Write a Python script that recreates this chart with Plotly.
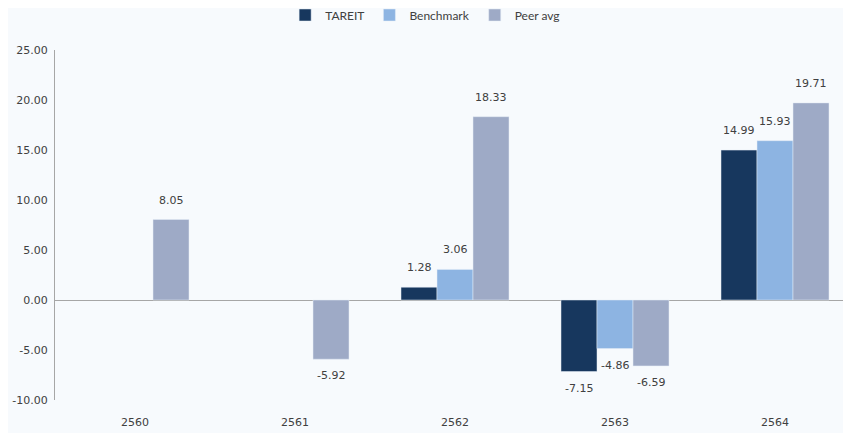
import plotly.graph_objects as go

categories = ["2560", "2561", "2562", "2563", "2564"]
tareit = [None, None, 1.28, -7.15, 14.99]
benchmark = [None, None, 3.06, -4.86, 15.93]
peer_avg = [8.05, -5.92, 18.33, -6.59, 19.71]
series_names = ["TAREIT", "Benchmark", "Peer avg"]
colors = ["#17375E", "#8DB4E2", "#9EAAC6"]
y_ticks = [-10, -5, 0, 5, 10, 15, 20, 25]

W, H = 843, 425
L, R, T, B = 47, 0, 42, 33
x_range = [-0.5, 4.475]
bargap = 0.325

fig = go.Figure()
for name, vals, col in zip(series_names, [tareit, benchmark, peer_avg], colors):
    fig.add_trace(go.Bar(x=categories, y=vals, name=name, marker_color=col))

# value labels placed at each bar's end, shifted to that bar's slot in the group
px_per_cat = (W - L - R) / (x_range[1] - x_range[0])
slot = px_per_cat * (1 - bargap) / len(series_names)
for i, vals in enumerate([tareit, benchmark, peer_avg]):
    dx = (i - (len(series_names) - 1) / 2) * slot
    for j, v in enumerate(vals):
        if v is None:
            continue
        fig.add_annotation(
            x=j, y=v, xref="x", yref="y", text=f"{v:.2f}", showarrow=False, xshift=dx,
            yanchor="bottom" if v >= 0 else "top",
            yshift=11 if v >= 0 else -8,
            font=dict(family="DejaVu Sans", size=11, color="#404040"),
        )

fig.update_layout(
    width=W, height=H,
    margin=dict(l=L, r=R, t=T, b=B, autoexpand=False),
    paper_bgcolor="#F7FAFD", plot_bgcolor="#F7FAFD",
    barmode="group", bargap=bargap, bargroupgap=0,
    showlegend=True,
    legend=dict(orientation="h", x=0.465, xanchor="center", y=1.1, yanchor="middle",
                font=dict(family="Lato", size=12, color="#404040"),
                itemwidth=30, bgcolor="rgba(0,0,0,0)"),
)
fig.update_xaxes(
    type="category", range=x_range, showgrid=False, showline=False,
    ticks="", ticklabelstandoff=14, automargin=False,
    tickfont=dict(family="DejaVu Sans", size=11, color="#404040"),
)
fig.update_yaxes(
    range=[-10, 25], tickvals=y_ticks, ticktext=[f"{v:.2f}" for v in y_ticks],
    showgrid=False, showline=True, linecolor="#A6A6A6", linewidth=1,
    zeroline=True, zerolinecolor="#A6A6A6", zerolinewidth=1,
    ticks="", ticklabelstandoff=4, automargin=False,
    tickfont=dict(family="DejaVu Sans", size=11, color="#404040"),
)
fig.write_html("out.html")
